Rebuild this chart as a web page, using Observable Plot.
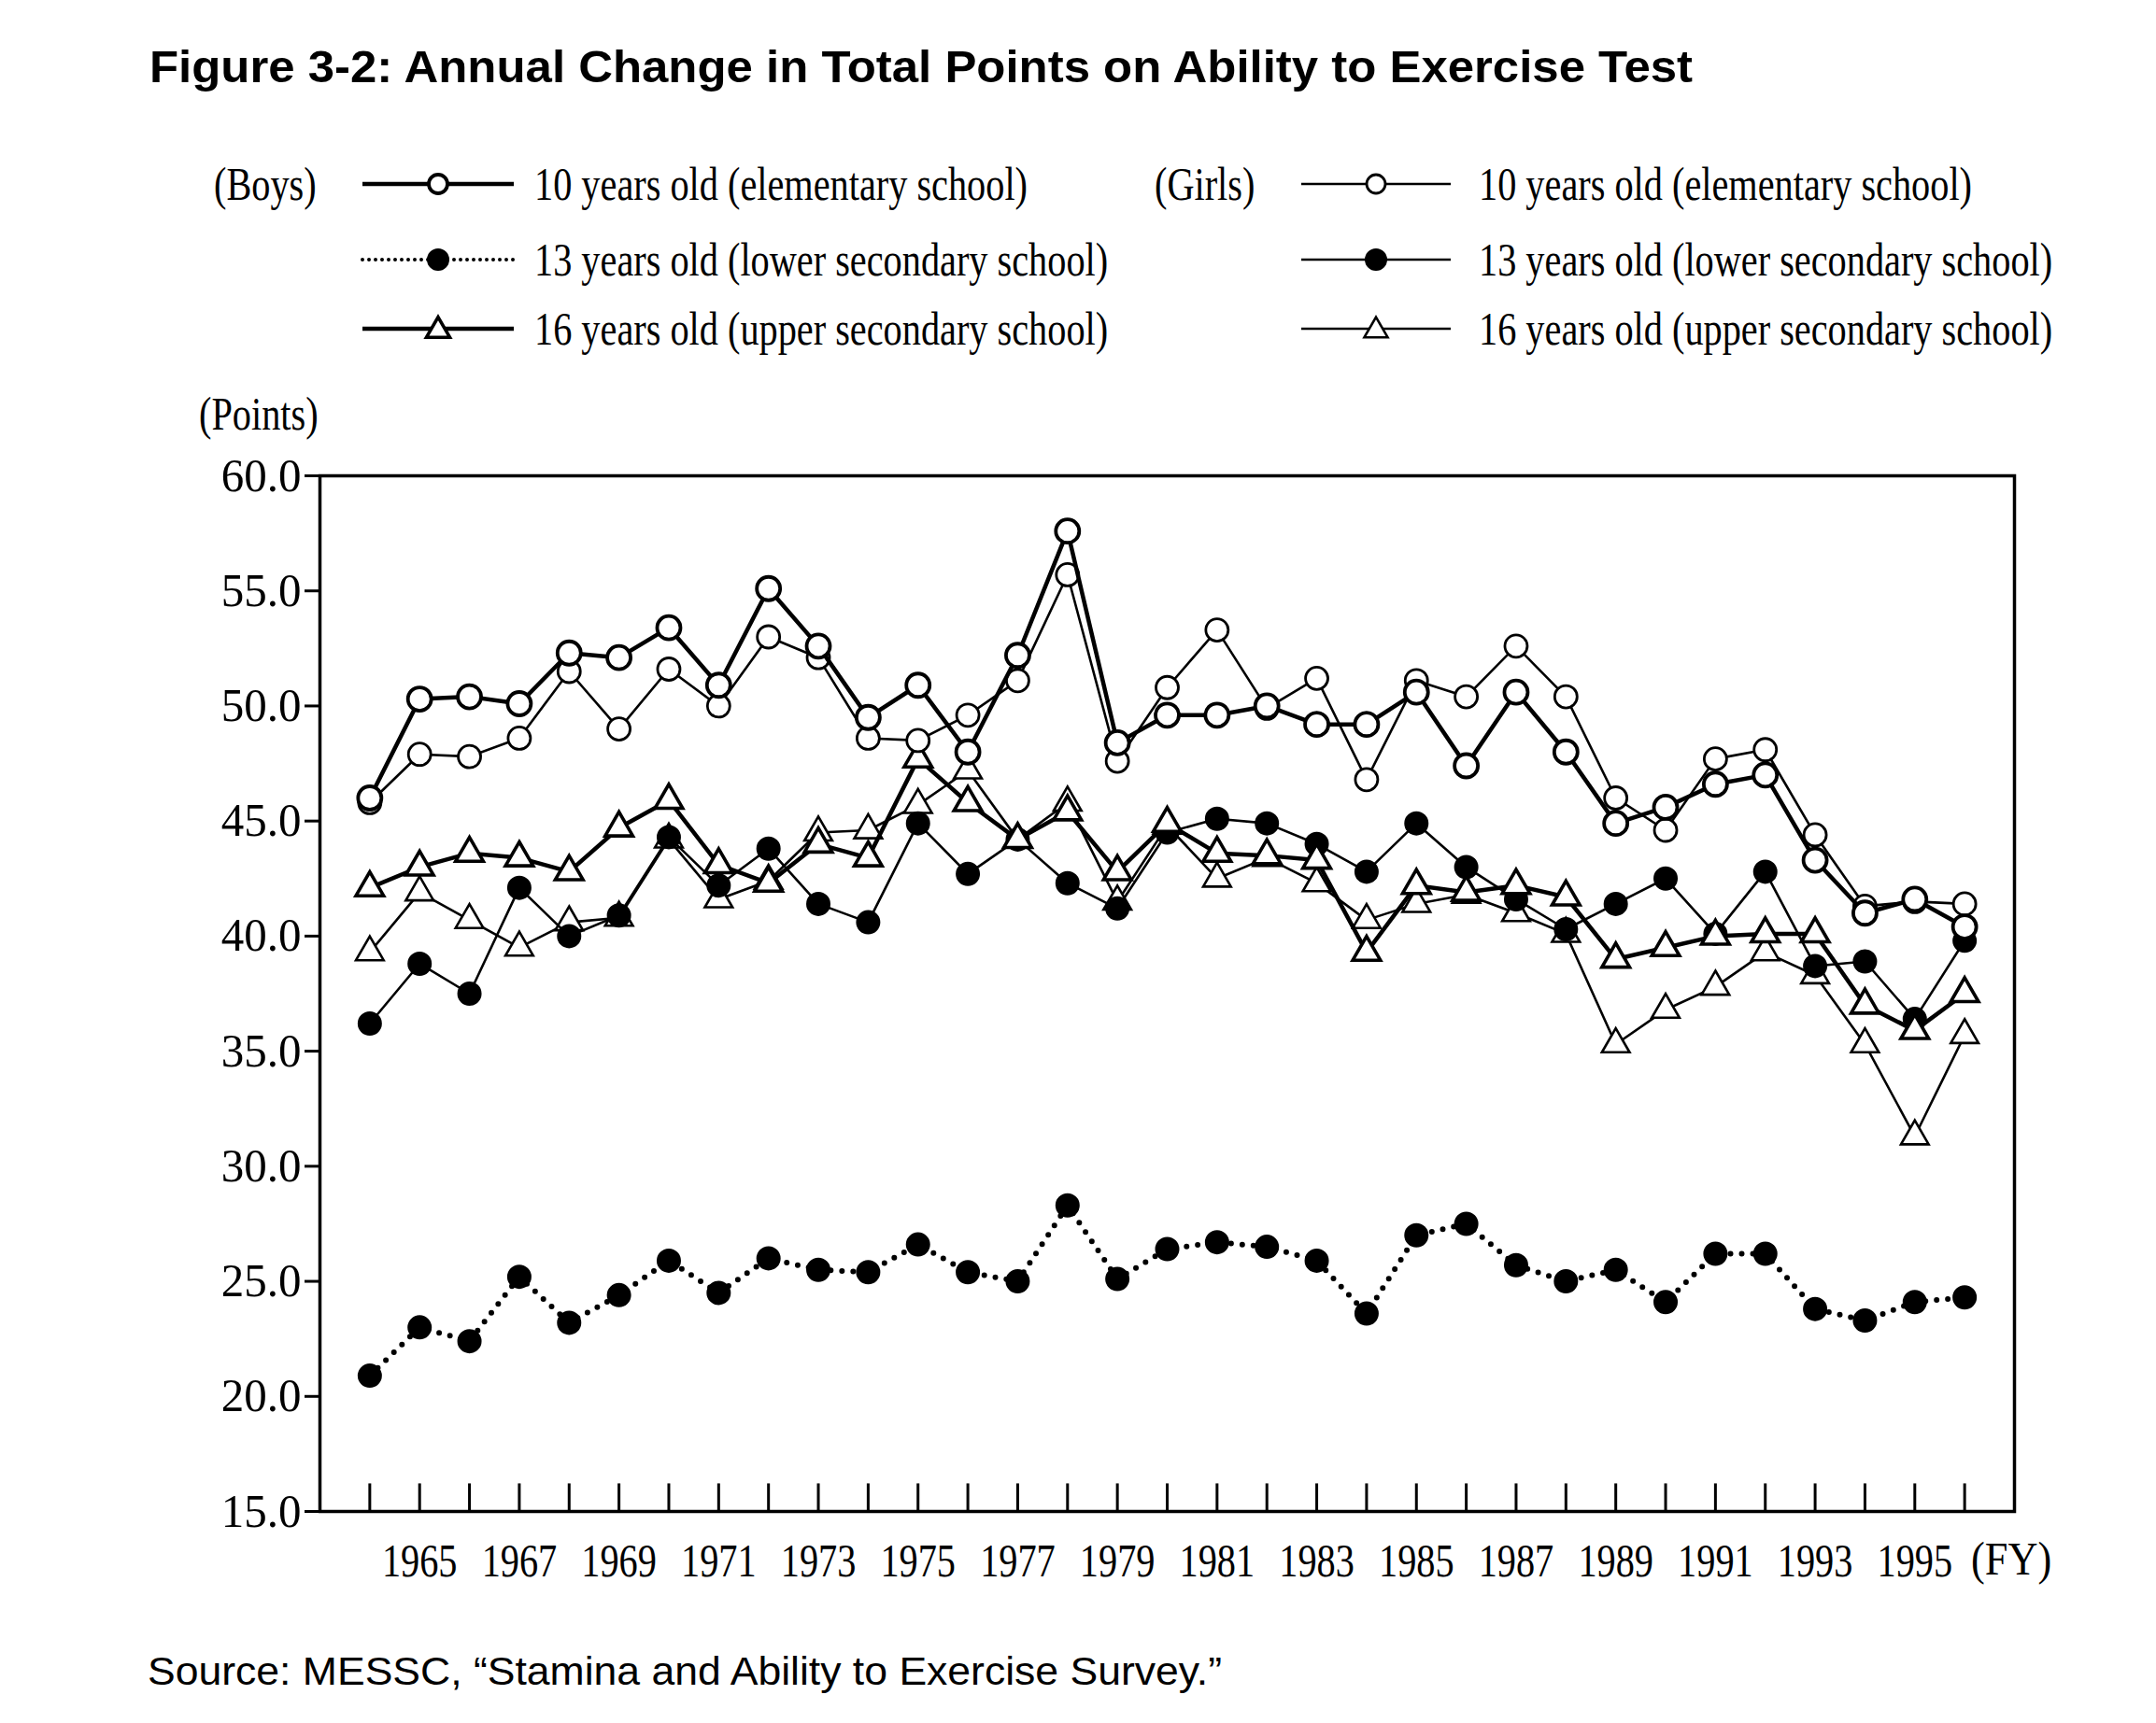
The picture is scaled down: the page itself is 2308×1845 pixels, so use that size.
<!DOCTYPE html>
<html><head><meta charset="utf-8">
<script src="https://cdn.jsdelivr.net/npm/d3@7"></script>
<script src="https://cdn.jsdelivr.net/npm/@observablehq/plot@0.6"></script>
<style>
html,body{margin:0;padding:0;background:#fff;}
#page{position:relative;width:2308px;height:1845px;background:#fff;overflow:hidden;}
.t{position:absolute;white-space:nowrap;line-height:1;color:#000;transform-origin:0 50%;z-index:3;}
.serif{font-family:"Liberation Serif","Times New Roman",serif;font-size:50px;}
.sans{font-family:"Liberation Sans",Arial,sans-serif;}
#plot{position:absolute;left:0;top:430px;z-index:1;}
#legend{position:absolute;left:0;top:0;z-index:2;}
</style></head><body><div id="page"></div>
<script>
// ---- data ----
const years = [1964,1965,1966,1967,1968,1969,1970,1971,1972,1973,1974,1975,1976,1977,1978,1979,1980,1981,1982,1983,1984,1985,1986,1987,1988,1989,1990,1991,1992,1993,1994,1995,1996];
const labelYears = [1965,1967,1969,1971,1973,1975,1977,1979,1981,1983,1985,1987,1989,1991,1993,1995];
const yTicks = [15,20,25,30,35,40,45,50,55,60];

const boys10  = [46.0,50.3,50.4,50.1,52.3,52.1,53.4,50.9,55.1,52.6,49.5,50.9,48.0,52.2,57.6,48.4,49.6,49.6,50.0,49.2,49.2,50.6,47.4,50.6,48.0,44.9,45.6,46.6,47.0,43.3,41.0,41.6,40.4];
const boys13  = [20.9,23.0,22.4,25.2,23.2,24.4,25.9,24.5,26.0,25.5,25.4,26.6,25.4,25.0,28.3,25.1,26.4,26.7,26.5,25.9,23.6,27.0,27.5,25.7,25.0,25.5,24.1,26.2,26.2,23.8,23.3,24.1,24.3];
const boys16  = [42.1,43.0,43.6,43.4,42.8,44.7,45.9,43.1,42.3,44.0,43.4,47.7,45.8,44.2,45.4,42.8,44.9,43.6,43.5,43.3,39.3,42.2,41.9,42.2,41.7,39.0,39.5,40.0,40.1,40.1,37.0,35.9,37.5];
const girls10 = [45.8,47.9,47.8,48.6,51.5,49.0,51.6,50.0,53.0,52.1,48.6,48.5,49.6,51.1,55.7,47.6,50.8,53.3,49.9,51.2,46.8,51.1,50.4,52.6,50.4,46.0,44.6,47.7,48.1,44.4,41.3,41.5,41.4];
const girls13 = [36.2,38.8,37.5,42.1,40.0,40.9,44.3,42.2,43.8,41.4,40.6,44.9,42.7,44.2,42.3,41.2,44.5,45.1,44.9,44.0,42.8,44.9,43.0,41.6,40.3,41.4,42.5,40.1,42.8,38.7,38.9,36.4,39.8];
const girls16 = [39.3,41.9,40.7,39.5,40.6,40.8,44.2,41.6,42.4,44.5,44.6,45.7,47.2,44.2,45.8,41.5,44.8,42.5,43.4,42.3,40.7,41.4,41.8,41.0,40.1,35.3,36.8,37.8,39.3,38.3,35.3,31.3,35.7];

const legendLabels = {
  boys10: "10 years old (elementary school)",
  boys13: "13 years old (lower secondary school)",
  boys16: "16 years old (upper secondary school)",
  girls10: "10 years old (elementary school)",
  girls13: "13 years old (lower secondary school)",
  girls16: "16 years old (upper secondary school)"
};

// ---- styles per series ----
const series = [
  {key:"boys13",  values:boys13,  sym:"circle",   fill:"black", lw:6,   mw:2,   dash:"0 12", r:12},
  {key:"girls16", values:girls16, sym:"triangle", fill:"white", lw:2.6, mw:2.6, dash:null,  r:11},
  {key:"girls13", values:girls13, sym:"circle",   fill:"black", lw:2.6, mw:2,   dash:null,  r:12},
  {key:"boys16",  values:boys16,  sym:"triangle", fill:"white", lw:4.5, mw:3.6, dash:null,  r:11},
  {key:"girls10", values:girls10, sym:"circle",   fill:"white", lw:2.6, mw:2.8, dash:null,  r:12},
  {key:"boys10",  values:boys10,  sym:"circle",   fill:"white", lw:4.5, mw:3.8, dash:null,  r:12.5}
];

const page = document.getElementById("page");
function addText(txt, cls, left, cy, extra) {
  const d = document.createElement("div");
  d.className = "t " + cls;
  d.textContent = txt;
  d.style.left = left + "px";
  d.style.top = cy + "px";
  if (extra) Object.assign(d.style, extra);
  page.appendChild(d);
  return d;
}
function fitX(el, target) {
  const w = el.getBoundingClientRect().width;
  const k = target / w;
  el.style.transform = `translateY(-50%) scaleX(${k})`;
  return k;
}
function scaleEl(el, k) { el.style.transform = `translateY(-50%) scaleX(${k})`; }

// Title
const title = addText("Figure 3-2: Annual Change in Total Points on Ability to Exercise Test", "sans", 160, 72, {fontWeight:"bold", fontSize:"48px"});
fitX(title, 1652);

// Legend
const rowY = [197, 278, 352];
const boysKeys = ["boys10","boys13","boys16"], girlsKeys = ["girls10","girls13","girls16"];
const probe = addText(legendLabels.boys10, "serif", 572, rowY[0]);
const kSerif = fitX(probe, 528);
boysKeys.slice(1).forEach((k,i)=> scaleEl(addText(legendLabels[k], "serif", 572, rowY[i+1]), kSerif));
girlsKeys.forEach((k,i)=> scaleEl(addText(legendLabels[k], "serif", 1583, rowY[i]), kSerif));
scaleEl(addText("(Boys)", "serif", 229, rowY[0]), kSerif);
scaleEl(addText("(Girls)", "serif", 1236, rowY[0]), kSerif);
scaleEl(addText("(Points)", "serif", 213, 443), kSerif);
scaleEl(addText("(FY)", "serif", 2110, 1669), kSerif * 1.1);

const src = addText("Source: MESSC, \u201cStamina and Ability to Exercise Survey.\u201d", "sans", 158, 1790, {fontSize:"42px"});
fitX(src, 1150);

// legend samples (svg)
const NS = "http://www.w3.org/2000/svg";
const lsvg = document.createElementNS(NS, "svg");
lsvg.setAttribute("id","legend"); lsvg.setAttribute("width", 2308); lsvg.setAttribute("height", 420);
page.appendChild(lsvg);
function triPath(cx, cy, s) {
  const h = s / Math.sqrt(3);
  return `M${cx},${cy - h}L${cx + s/2},${cy + h/2}L${cx - s/2},${cy + h/2}Z`;
}
const byKey = Object.fromEntries(series.map(s => [s.key, s]));
function sample(key, x0, x1, cy) {
  const s = byKey[key];
  const ln = document.createElementNS(NS, "line");
  ln.setAttribute("x1", x0); ln.setAttribute("x2", x1); ln.setAttribute("y1", cy); ln.setAttribute("y2", cy);
  ln.setAttribute("stroke", "black"); ln.setAttribute("stroke-width", key==="boys13" ? 4 : s.lw);
  if (s.dash) { ln.setAttribute("stroke-dasharray", "0 7"); ln.setAttribute("stroke-linecap", "round"); }
  lsvg.appendChild(ln);
  const cx = (x0 + x1) / 2;
  let m;
  if (s.sym === "circle") {
    m = document.createElementNS(NS, "circle");
    m.setAttribute("cx", cx); m.setAttribute("cy", cy); m.setAttribute("r", s.fill === "black" ? 11 : 10);
  } else {
    m = document.createElementNS(NS, "path");
    m.setAttribute("d", triPath(cx, cy + 2, 25));
  }
  m.setAttribute("fill", s.fill); m.setAttribute("stroke", "black"); m.setAttribute("stroke-width", s.mw);
  lsvg.appendChild(m);
}
boysKeys.forEach((k,i)=> sample(k, 388, 550, rowY[i]));
girlsKeys.forEach((k,i)=> sample(k, 1393, 1553, rowY[i]));

// ---- plot ----
const marks = [
  Plot.ruleX(years, {x: d => d, y1: 15, y2: 16.2, stroke: "black", strokeWidth: 3}),
  Plot.axisY({ticks: yTicks, tickFormat: d => d.toFixed(1), tickSize: 16, tickPadding: 4, label: null, fontSize: 50, strokeWidth: 3}),
  Plot.axisX({ticks: labelYears, tickFormat: d => String(d), tickSize: 0, tickPadding: 34, label: null, fontSize: 50})
];
for (const s of series) {
  const data = years.map((y, i) => ({year: y, value: s.values[i]}));
  marks.push(Plot.line(data, {x: "year", y: "value", stroke: "black", strokeWidth: s.lw,
    strokeDasharray: s.dash || undefined, strokeLinecap: s.dash ? "round" : "butt", strokeLinejoin: "round"}));
  marks.push(Plot.dot(data, {x: "year", y: "value", symbol: s.sym, r: s.r, fill: s.fill, stroke: "black", strokeWidth: s.mw}));
}
marks.push(Plot.frame({stroke: "black", strokeWidth: 3.5}));

const chart = Plot.plot({
  width: 2308, height: 1300,
  marginTop: 79, marginBottom: 112, marginLeft: 342, marginRight: 152,
  x: {domain: [1963, 1997]},
  y: {domain: [15, 60]},
  style: {fontFamily: "Liberation Serif, Times New Roman, serif", fontSize: "50px", background: "white", color: "black"},
  marks
});
chart.setAttribute("id", "plot");
page.insertBefore(chart, page.firstChild);
d3.select(chart).selectAll('g[aria-label="x-axis tick label"] text')
  .attr("transform", function() { return (this.getAttribute("transform") || "") + ` scale(${kSerif},1)`; });
d3.select(chart).selectAll('g[aria-label="y-axis tick label"] text')
  .attr("transform", function() { return (this.getAttribute("transform") || "") + ` scale(0.98,1)`; });
</script>
</body></html>
